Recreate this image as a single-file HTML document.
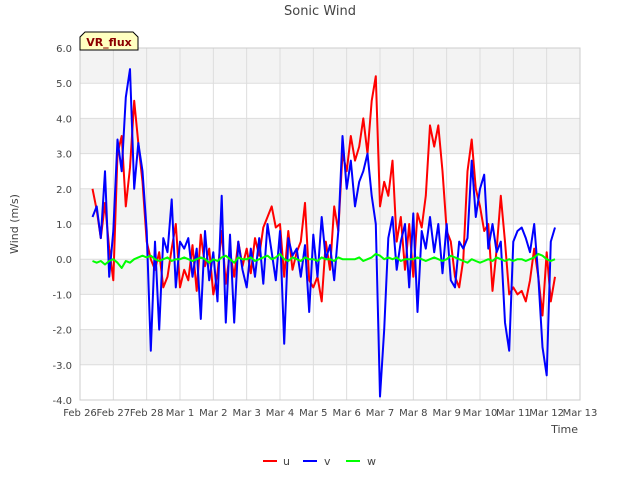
<!DOCTYPE html>
<html><head><meta charset="utf-8"><style>
body{margin:0;background:#fff;font-family:"Liberation Sans","DejaVu Sans",sans-serif}
svg text{font-family:"DejaVu Sans","Liberation Sans",sans-serif}
</style></head><body>
<svg id="c" width="640" height="480">
<text x="320" y="15" text-anchor="middle" font-size="13" fill="#444">Sonic Wind</text>
<g id="bands"></g><g id="grid"></g><g id="ticks"></g><g id="series"></g>
<text transform="translate(18,224) rotate(-90)" text-anchor="middle" font-size="11" fill="#444">Wind (m/s)</text>
<text x="578" y="433" text-anchor="end" font-size="11" fill="#444">Time</text>
<g>
<path d="M80,50 L80,37 L85,32 L133,32 L138,37 L138,50 Z" fill="#ffffc0" stroke="#000"/>
<text x="109" y="46" text-anchor="middle" font-size="11" font-weight="bold" fill="#8b0000">VR_flux</text></g>
<g>
<line x1="263" y1="461" x2="277" y2="461" stroke="#f00" stroke-width="2"/><text x="283" y="465" font-size="11" fill="#444">u</text>
<line x1="303" y1="461" x2="317" y2="461" stroke="#00f" stroke-width="2"/><text x="324" y="465" font-size="11" fill="#444">v</text>
<line x1="346" y1="461" x2="360" y2="461" stroke="#0f0" stroke-width="2"/><text x="367" y="465" font-size="11" fill="#444">w</text>
</g>
</svg>
<script>
const xTickLabels=["Feb 26","Feb 27","Feb 28","Mar 1","Mar 2","Mar 3","Mar 4","Mar 5","Mar 6","Mar 7","Mar 8","Mar 9","Mar 10","Mar 11","Mar 12","Mar 13"];
const yTicks=[-4,-3,-2,-1,0,1,2,3,4,5,6];
const tStart=0.375, tStep=0.125;
const u=[2.0,1.4,0.6,1.6,0.3,
-0.6,3.0,3.5,1.5,2.6,4.5,3.3,2.2,
0.5,0.0,-0.3,0.2,-0.8,-0.5,0.3,1.0,
-0.8,-0.3,-0.6,0.4,-0.9,0.7,-0.2,0.3,
-1.0,-0.4,0.8,-0.7,0.2,-0.5,0.5,-0.2,
0.3,-0.4,0.6,0.1,0.9,1.2,1.5,0.9,
1.0,-0.5,0.8,-0.3,0.2,0.5,1.6,-0.6,
-0.8,-0.5,-1.2,0.5,-0.3,1.5,0.8,3.0,
2.5,3.5,2.8,3.2,4.0,3.0,4.5,5.2,
1.5,2.2,1.8,2.8,0.5,1.2,-0.3,1.0,
-0.5,1.3,0.9,1.8,3.8,3.2,3.8,2.5,
0.8,0.5,-0.5,-0.8,0.0,2.5,3.4,2.0,
1.5,0.8,1.0,-0.9,0.3,1.8,0.5,-1.0,
-0.8,-1.0,-0.9,-1.2,-0.6,0.3,-0.5,-1.6,
0.2,-1.2,-0.5];
const v=[1.2,1.5,0.6,2.5,-0.5,
0.8,3.4,2.5,4.6,5.4,2.0,3.3,2.5,
0.8,-2.6,0.5,-2.0,0.6,0.2,1.7,-0.8,
0.5,0.3,0.6,-0.5,0.3,-1.7,0.8,-0.6,
0.2,-1.2,1.8,-1.8,0.7,-1.8,0.5,-0.3,
-0.8,0.3,-0.5,0.6,-0.7,1.0,0.2,-0.6,
0.8,-2.4,0.6,0.1,0.3,-0.5,0.4,-1.5,
0.7,-0.5,1.2,0.0,0.4,-0.6,0.8,3.5,
2.0,2.8,1.5,2.2,2.5,3.0,1.8,1.0,
-3.9,-2.0,0.6,1.2,-0.3,0.5,1.0,-0.8,
1.3,-1.5,0.8,0.3,1.2,0.2,1.0,-0.4,
1.0,-0.6,-0.8,0.5,0.3,0.6,2.8,1.2,
2.0,2.4,0.3,1.0,0.2,0.5,-1.8,-2.6,
0.5,0.8,0.9,0.6,0.2,1.0,-0.5,-2.5,
-3.3,0.5,0.9];
const w=[-0.05,-0.1,-0.05,-0.15,-0.05,
0.0,-0.1,-0.25,-0.05,-0.1,0.0,0.05,0.1,
0.05,0.1,0.0,-0.05,0.0,0.05,-0.05,0.0,
0.0,0.05,0.0,-0.05,0.0,0.05,0.0,-0.1,
0.0,-0.05,0.05,0.1,0.0,-0.1,0.05,0.0,
0.0,0.05,-0.05,0.0,0.05,0.1,0.0,0.05,
0.15,0.0,-0.05,0.05,0.0,-0.05,0.05,0.0,
0.0,-0.05,0.05,0.0,0.0,-0.05,0.05,0.0,
0.0,0.0,0.0,0.05,-0.05,0.0,0.05,0.15,
0.1,0.0,0.05,0.0,0.05,-0.05,0.0,0.0,
0.0,0.05,0.0,-0.05,0.0,0.05,0.0,-0.05,
0.0,0.1,0.05,0.0,-0.05,-0.1,0.0,-0.05,
-0.1,-0.05,0.0,-0.05,0.05,0.0,-0.05,0.0,
-0.05,0.0,0.0,-0.05,0.0,0.05,0.15,0.1,
0.0,-0.05,0.0];
const X0=80,X1=580,Y0=400,Y1=48,yMin=-4,yMax=6,tMax=15;
const xS=t=>X0+(X1-X0)*t/tMax, yS=val=>Y0-(Y0-Y1)*(val-yMin)/(yMax-yMin);
const NS="http://www.w3.org/2000/svg";
function mk(tag,attrs,parent){const e=document.createElementNS(NS,tag);for(const k in attrs)e.setAttribute(k,attrs[k]);document.getElementById(parent).appendChild(e);return e;}
for(let i=0;i<yTicks.length-1;i++){
 const top=yTicks[i+1],bot=yTicks[i];
 const r=mk('rect',{x:X0,y:yS(top),width:X1-X0,height:yS(bot)-yS(top),fill:((yMax-top)%2===0)?'#f3f3f3':'#fff'},'bands');
 
 
}
yTicks.forEach(t=>{
 const l=mk('line',{x1:X0,x2:X1,y1:yS(t),y2:yS(t),stroke:'#ddd'},'grid');
 
 
 const tx=mk('text',{x:72,y:yS(t)+4,'text-anchor':'end','font-size':'10',fill:'#444'},'ticks');
 tx.textContent=t.toFixed(1);
 
 
});
xTickLabels.forEach((lab,i)=>{
 const l=mk('line',{x1:xS(i),x2:xS(i),y1:Y1,y2:Y0,stroke:'#ddd'},'grid');
 
 
 const tx=mk('text',{x:xS(i),y:416,'text-anchor':'middle','font-size':'10',fill:'#444'},'ticks');
 tx.textContent=lab;
 
 
});
const fr=mk('rect',{x:X0,y:Y1,width:X1-X0,height:Y0-Y1,fill:'none',stroke:'#ccc'},'grid');


[[u,'#f00','u'],[v,'#00f','v'],[w,'#0f0','w']].forEach(([arr,col,nm])=>{
 const pts=arr.map((val,i)=>xS(tStart+i*tStep).toFixed(1)+','+yS(val).toFixed(1)).join(' ');
 const p=mk('polyline',{points:pts,fill:'none',stroke:col,'stroke-width':2,'stroke-linejoin':'round'},'series');
 
 
});
</script>
</body></html>
